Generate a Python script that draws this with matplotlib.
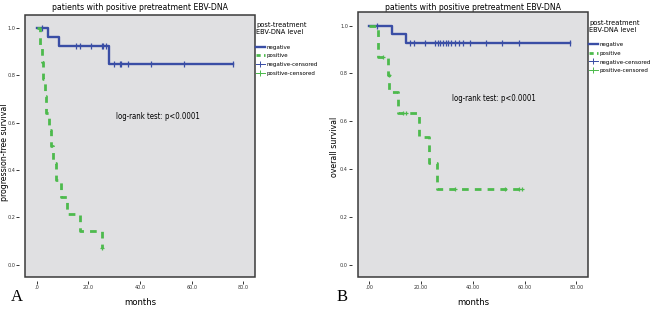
import numpy as np
import matplotlib

matplotlib.use("Agg")
import matplotlib.pyplot as plt
from matplotlib.lines import Line2D
from matplotlib.patches import Rectangle

plt.rcParams["font.family"] = ["DejaVu Sans"]
plt.rcParams["font.stretch"] = "condensed"

# ---- panel A: progression-free survival ----
a_neg_t = [0, 4.5, 8.7, 28.1, 76.0]
a_neg_s = [1.0, 0.963, 0.926, 0.850, 0.850]
a_neg_cens = [2.2, 15.1, 16.8, 21.0, 25.1, 25.8, 26.7, 30.0, 32.2, 32.6, 35.2, 44.2, 57.0, 76.0]

a_pos_t = [0, 1.3, 2.0, 2.6, 3.2, 3.8, 4.6, 5.4, 6.3, 7.3, 9.3, 11.6, 16.7, 25.1, 25.3]
a_pos_s = [1.0, 0.929, 0.857, 0.786, 0.714, 0.643, 0.571, 0.500, 0.429, 0.357,
           0.286, 0.214, 0.143, 0.071, 0.071]
a_pos_cens = [25.3]

# ---- panel B: overall survival ----
b_neg_t = [0, 8.9, 14.2, 77.5]
b_neg_s = [1.0, 0.963, 0.926, 0.926]
b_neg_cens = [2.9, 15.8, 17.1, 21.6, 25.5, 26.5, 27.5, 28.5, 29.5, 30.5, 31.5, 33.0,
              34.5, 36.2, 38.8, 45.1, 51.3, 58.0, 77.5]

b_pos_t = [0, 3.5, 7.4, 7.7, 11.2, 19.0, 22.9, 26.0, 59.0]
b_pos_s = [1.0, 0.867, 0.794, 0.722, 0.636, 0.535, 0.425, 0.318, 0.318]
b_pos_cens = [5.4, 7.5, 13.0, 14.2, 33.2, 52.6, 57.8, 59.0]

y_ticks = [0.0, 0.2, 0.4, 0.6, 0.8, 1.0]
y_ticklabels = ["0.0", "0.2", "0.4", "0.6", "0.8", "1.0"]
x_ticks = [0, 20, 40, 60, 80]
a_xticklabels = [".0", "20.0", "40.0", "60.0", "80.0"]
b_xticklabels = [".00", "20.00", "40.00", "60.00", "80.00"]

legend_labels = ["negative", "positive", "negative-censored", "positive-censored"]

BLUE = "#3a4ea5"
GREEN = "#4dba4d"
BG = "#e0e0e2"


def _level_at(times, surv, t):
    idx = np.searchsorted(np.asarray(times), t, side="right") - 1
    return np.asarray(surv)[idx]


def _draw_panel(ax, neg_t, neg_s, neg_c, pos_t, pos_s, pos_c, ylabel, xticklabels,
                letter, ylab_xy, letter_xy, text_xy, title_pad):
    ax.set_facecolor(BG)
    ax.step(neg_t, neg_s, where="post", color=BLUE, lw=1.7, zorder=3)
    ax.plot(neg_c, _level_at(neg_t, neg_s, neg_c), ls="none", marker="|",
            ms=4, mew=0.9, color=BLUE, zorder=3)
    ax.step(pos_t, pos_s, where="post", color=GREEN, lw=2.0, zorder=4,
            dashes=(2.4, 2.2))
    ax.plot(pos_c, _level_at(pos_t, pos_s, pos_c), ls="none", marker="+",
            ms=3.5, mew=0.9, color=GREEN, zorder=4)

    ax.set_xlim(-4.5, 84.5)
    ax.set_ylim(-0.052, 1.055)
    ax.set_xticks(x_ticks)
    ax.set_xticklabels(xticklabels)
    ax.set_yticks(y_ticks)
    ax.set_yticklabels(y_ticklabels)
    ax.tick_params(labelsize=4.0, length=2, width=0.7, pad=1, colors="#333333")

    # frame drawn as a patch, ticks sit on offset invisible spines (SPSS look)
    for sp in ax.spines.values():
        sp.set_visible(False)
    ax.spines["left"].set_position(("outward", 4))
    ax.spines["bottom"].set_position(("outward", 3))
    ax.add_patch(Rectangle((0, 0), 1, 1, transform=ax.transAxes, fill=False,
                           ec="#3a3a3a", lw=1.1, clip_on=False, zorder=5))

    ax.set_title("patients with positive pretreatment EBV-DNA", fontsize=6.2,
                 pad=title_pad)
    ax.set_ylabel(ylabel, fontsize=6.3)
    ax.yaxis.set_label_coords(*ylab_xy)
    ax.set_xlabel("months", fontsize=6.8)
    ax.xaxis.set_label_coords(0.5, -0.08)
    ax.text(text_xy[0], text_xy[1], "log-rank test: p<0.0001", transform=ax.transAxes,
            fontsize=5.6, ha="center", va="center")
    ax.text(letter_xy[0], letter_xy[1], letter, transform=ax.transAxes, fontsize=12,
            family="Liberation Serif", stretch="normal", ha="center", va="center")

    handles = [
        Line2D([], [], color=BLUE, lw=1.7),
        Line2D([], [], color=GREEN, lw=2.0, dashes=(1.5, 1.2)),
        Line2D([], [], color=BLUE, lw=0.7, marker="+", ms=4, mew=0.7),
        Line2D([], [], color=GREEN, lw=0.7, marker="+", ms=4, mew=0.7),
    ]
    leg = ax.legend(handles, legend_labels, title="post-treatment\nEBV-DNA level",
                    loc="upper left", bbox_to_anchor=(1.0, 0.975), frameon=False,
                    fontsize=4.4, title_fontsize=5.3, handlelength=1.5,
                    handletextpad=0.2, labelspacing=0.55, borderaxespad=0.0,
                    borderpad=0.15)
    leg._legend_box.align = "left"
    leg._legend_box.sep = 6.5


fig = plt.figure(figsize=(6.5, 3.12), dpi=100)
ax_a = fig.add_axes([0.0385, 0.1122, 0.3538, 0.8397])
ax_b = fig.add_axes([0.5503, 0.1122, 0.3543, 0.848])

_draw_panel(ax_a, a_neg_t, a_neg_s, a_neg_cens, a_pos_t, a_pos_s, a_pos_cens,
            "progression-free survival", a_xticklabels, "A",
            (-0.07, 0.475), (-0.035, -0.075), (0.576, 0.612), 3.5)
_draw_panel(ax_b, b_neg_t, b_neg_s, b_neg_cens, b_pos_t, b_pos_s, b_pos_cens,
            "overall survival", b_xticklabels, "B",
            (-0.08, 0.49), (-0.07, -0.074), (0.593, 0.675), 2.0)

fig.savefig("out.png", dpi=100, facecolor="white")
